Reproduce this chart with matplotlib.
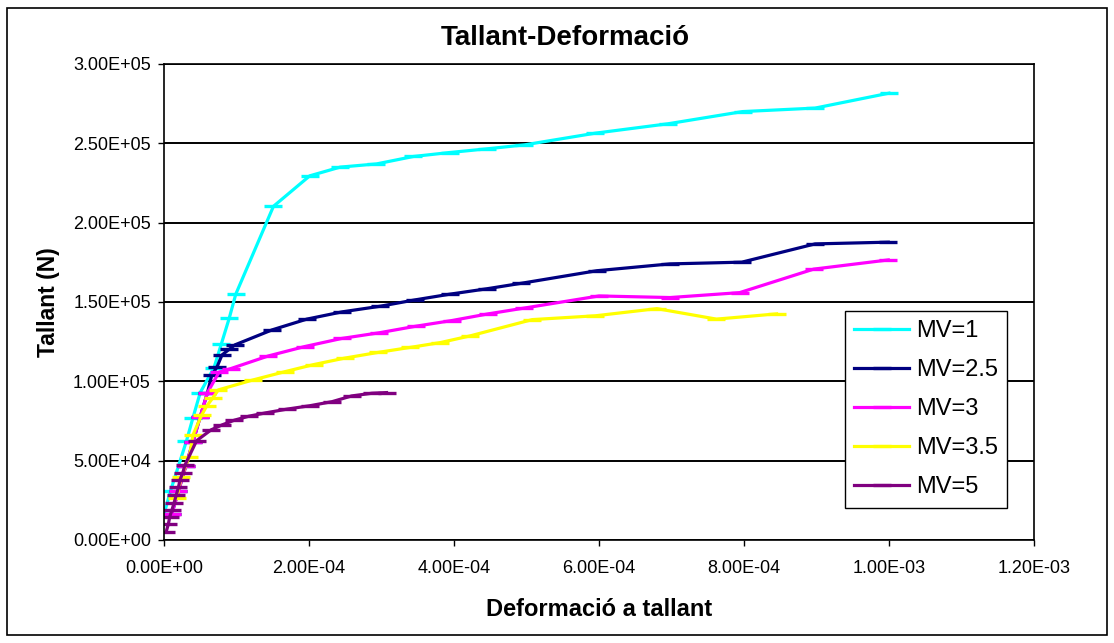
import matplotlib
matplotlib.use("Agg")
import matplotlib.pyplot as plt
from matplotlib.patches import Rectangle
from matplotlib.ticker import FuncFormatter, MultipleLocator

plt.rcParams["font.family"] = ["Liberation Sans", "DejaVu Sans"]

# --- series data: strain (x) and shear force in N (y) ---
labels = ["MV=1", "MV=2.5", "MV=3", "MV=3.5", "MV=5"]
colors = ["#00FFFF", "#000080", "#FF00FF", "#FFFF00", "#800080"]

x_mv1 = [0.0, 0.9e-5, 3.1e-5, 4.0e-5, 5.0e-5, 6.9e-5, 7.9e-5, 9.0e-5, 9.9e-5,
         1.51e-4, 2.01e-4, 2.43e-4, 2.93e-4, 3.44e-4, 3.94e-4, 4.45e-4, 4.97e-4,
         5.95e-4, 6.95e-4, 7.98e-4, 8.98e-4, 1.0e-3]
y_mv1 = [16200, 30900, 62400, 77100, 92900, 108600, 123400, 139800, 154900,
         210300, 229500, 235000, 237000, 241700, 244200, 246500, 249000,
         256400, 262300, 270000, 272200, 281600]

x_mv25 = [1.06e-5, 2.0e-5, 3.0e-5, 4.0e-5, 5.0e-5, 6.0e-5, 6.6e-5, 7.3e-5, 8.0e-5,
          9.0e-5, 9.8e-5, 1.49e-4, 1.97e-4, 2.46e-4, 2.98e-4, 3.46e-4, 3.94e-4,
          4.45e-4, 4.93e-4, 5.97e-4, 6.98e-4, 7.97e-4, 8.98e-4, 9.99e-4]
y_mv25 = [16200, 30900, 46500, 62000, 77700, 92900, 104000, 108900, 116600,
          120200, 123000, 132400, 139200, 143800, 147300, 151300, 154900,
          158300, 161800, 169700, 174000, 175100, 186600, 187700]

x_mv3 = [1.06e-5, 2.0e-5, 3.0e-5, 4.0e-5, 5.0e-5, 6.0e-5, 7.6e-5, 9.2e-5,
         1.44e-4, 1.94e-4, 2.45e-4, 2.97e-4, 3.47e-4, 3.97e-4, 4.47e-4,
         4.96e-4, 6.0e-4, 6.98e-4, 7.94e-4, 8.96e-4, 9.99e-4]
y_mv3 = [16200, 30900, 46500, 62000, 77700, 92900, 105800, 108000,
         116000, 121900, 127000, 130600, 134700, 138300, 142500,
         146100, 153800, 152800, 155900, 170700, 176500]

x_mv35 = [1.75e-5, 2.4e-5, 3.5e-5, 4.0e-5, 5.2e-5, 5.9e-5, 6.7e-5, 7.5e-5,
          1.23e-4, 1.67e-4, 2.07e-4, 2.49e-4, 2.95e-4, 3.4e-4, 3.81e-4,
          4.22e-4, 5.08e-4, 5.95e-4, 6.8e-4, 7.62e-4, 8.45e-4]
y_mv35 = [26300, 39900, 52500, 66200, 78800, 84500, 89300, 94600,
          100900, 106100, 110600, 114600, 118200, 121400, 124400,
          128600, 138900, 141300, 145800, 139200, 142500]

x_mv5 = [0.3e-5, 0.6e-5, 0.8e-5, 1.1e-5, 1.4e-5, 1.7e-5, 2.0e-5, 2.2e-5,
         2.6e-5, 2.9e-5, 4.5e-5, 6.5e-5, 8.0e-5, 9.7e-5, 1.17e-4, 1.4e-4,
         1.7e-4, 2.01e-4, 2.32e-4, 2.59e-4, 2.87e-4, 3.07e-4]
y_mv5 = [5200, 9900, 14700, 18900, 23500, 28400, 33200, 37800,
         42400, 47300, 62600, 69400, 72500, 75500, 78000, 80100,
         82500, 84600, 87200, 90800, 92500, 92900]

xs = [x_mv1, x_mv25, x_mv3, x_mv35, x_mv5]
ys = [y_mv1, y_mv25, y_mv3, y_mv35, y_mv5]

title = "Tallant-Deformació"
xlabel = "Deformació a tallant"
ylabel = "Tallant (N)"

fig = plt.figure(figsize=(11.14, 6.43), dpi=100)
ax = fig.add_axes([0.1472, 0.1602, 0.7810, 0.7403])

for count in range(len(xs)):
    ax.plot(xs[count], ys[count], color=colors[count], label=labels[count],
            linewidth=2.3, marker="_", markersize=13, markeredgewidth=2.4)

ax.set_xlim(0, 1.2e-3)
ax.set_ylim(0, 3.0e5)
ax.xaxis.set_major_locator(MultipleLocator(2e-4))
ax.yaxis.set_major_locator(MultipleLocator(5e4))
ax.xaxis.set_major_formatter(FuncFormatter(lambda v, p: f"{v:.2E}"))
ax.yaxis.set_major_formatter(FuncFormatter(lambda v, p: f"{v:.2E}"))
ax.tick_params(direction="out", length=4.5, width=1, labelsize=13, color="black")
ax.tick_params(axis="x", pad=10)
ax.tick_params(axis="y", pad=5)
ax.grid(True, axis="y", color="black", linewidth=1.4)
ax.set_axisbelow(True)
for side in ax.spines.values():
    side.set_color("black")
    side.set_linewidth(1.2)

ax.set_xlabel(xlabel, fontsize=17, fontweight="bold", labelpad=15)
ax.set_ylabel(ylabel, fontsize=16.5, fontweight="bold", labelpad=9)
fig.text(0.5076, 1 - 45 / 643, title, fontsize=20, fontweight="bold",
         ha="center", va="baseline")

leg = ax.legend(loc="upper left", bbox_to_anchor=(0.7585, 0.5163),
                bbox_transform=fig.transFigure, borderaxespad=0,
                fontsize=17, handlelength=2.33, handletextpad=0.27,
                labelspacing=0.72, numpoints=1, fancybox=False,
                framealpha=1, edgecolor="black", borderpad=0.4)
leg.get_frame().set_linewidth(1.0)

# chart area border
fig.patches.append(Rectangle((7 / 1114, 8 / 643), 1100 / 1114, 627 / 643,
                             transform=fig.transFigure, fill=False,
                             edgecolor="black", linewidth=1.2))

fig.savefig("out.png", dpi=100)
